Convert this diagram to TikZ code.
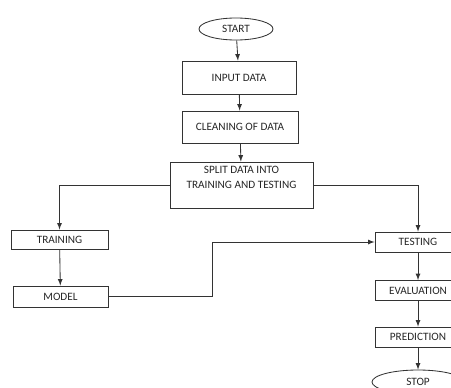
\documentclass[tikz,border=0pt]{standalone}
\usepackage{fontspec}
\setmainfont{Carlito}
\usetikzlibrary{shapes, arrows}
\tikzset{b/.style={rectangle, draw=black!80, line width=0.6pt, minimum height=5mm, inner sep=1pt, text=black!85, font=\fontsize{8}{10}\selectfont},
        ov/.style={ellipse, draw=black!80, line width=0.6pt, inner sep=1pt, text=black!85, font=\fontsize{8}{10}\selectfont}}

\begin{document}
\begin{tikzpicture}[x=0.025cm, y=-0.025cm, >=latex]
    \useasboundingbox (0,0) rectangle (451,387);
    \clip (0,0) rectangle (451,387);

    \node (start) at (236,29) [ov, minimum width=1.85cm, minimum height=0.55cm] {START};
    \node (input) at (239,77.5) [b, minimum width=2.85cm, minimum height=0.825cm] {INPUT DATA};
    \node (clean) at (240,127) [b, minimum width=2.9cm, minimum height=0.8cm] {CLEANING OF DATA};
    % text sits in the upper part of this box
    \node (split) at (241.5,185) [b, minimum width=3.575cm, minimum height=0pt, inner ysep=0pt, text height=18.5pt, text depth=14.2pt, align=center] {SPLIT DATA INTO\\TRAINING AND TESTING};

    \node (training) at (59.5,239.5) [b, minimum width=2.425cm, minimum height=0.475cm] {TRAINING};
    \node (model) at (60.5,296.5) [b, minimum width=2.375cm, minimum height=0.525cm] {MODEL};

    \node (testing) at (418,242) [b, minimum width=2.15cm] {TESTING};
    \node (eval) at (418,290.5) [b, minimum width=2.15cm] {EVALUATION};
    \node (pred) at (418,337) [b, minimum width=2.15cm] {PREDICTION};
    \node (stop) at (418,382) [ov, minimum width=2.3cm, minimum height=0.6cm] {STOP};

    \coordinate (bend) at (212,242);

    \draw[->, black!80, line width=0.6pt] (start) -- (input);
    \draw[->, black!80, line width=0.6pt] (input) -- (clean);
    \draw[->, black!80, line width=0.6pt] (clean) -- (split);
    \draw[->, black!80, line width=0.6pt] (split.west) -| (training);
    \draw[->, black!80, line width=0.6pt] (split.east) -| (testing);
    \draw[->, black!80, line width=0.6pt] (training) -- (model);
    \draw[->, black!80, line width=0.6pt] (model.east) -| (bend) -- (testing.west);
    \draw[->, black!80, line width=0.6pt] (testing) -- (eval);
    \draw[->, black!80, line width=0.6pt] (eval) -- (pred);
    \draw[->, black!80, line width=0.6pt] (pred) -- (stop);
\end{tikzpicture}
\end{document}
